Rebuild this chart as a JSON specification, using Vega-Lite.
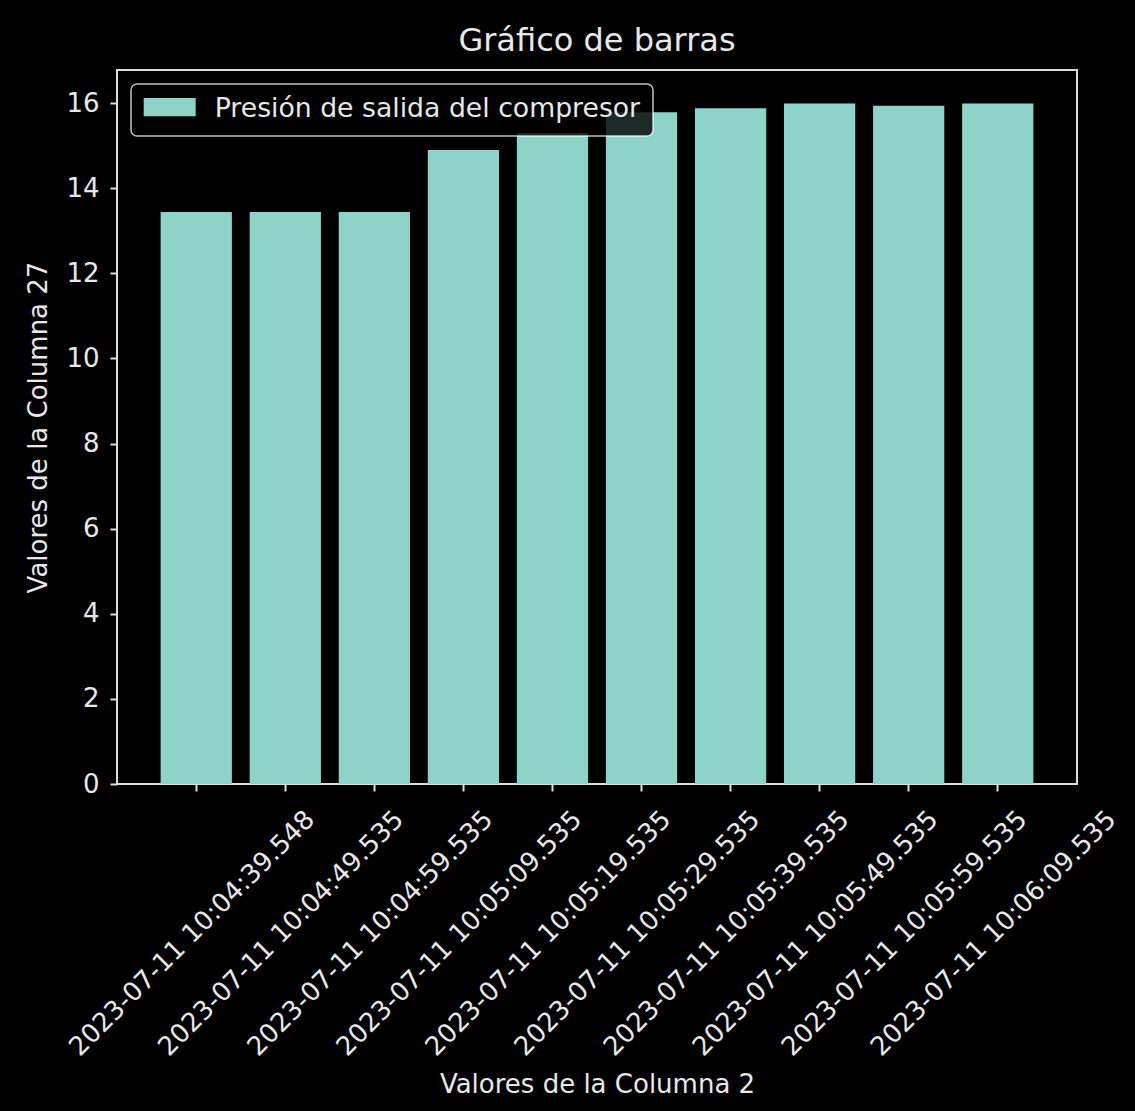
{
  "$schema": "https://vega.github.io/schema/vega-lite/v6.json",
  "autosize": {"type": "none"},
  "padding": {"left": 117, "top": 70, "right": 58, "bottom": 327},
  "width": 960,
  "height": 714,
  "background": "#000000",
  "title": {
    "text": "Gráfico de barras",
    "frame": "group",
    "anchor": "middle",
    "font": "DejaVu Sans",
    "fontSize": 32,
    "fontWeight": "normal",
    "color": "#e8e8e8",
    "baseline": "bottom",
    "offset": 11,
    "dy": 31
  },
  "data": {
    "values": [
      {"tiempo": "2023-07-11 10:04:39.548", "presion": 13.44},
      {"tiempo": "2023-07-11 10:04:49.535", "presion": 13.44},
      {"tiempo": "2023-07-11 10:04:59.535", "presion": 13.44},
      {"tiempo": "2023-07-11 10:05:09.535", "presion": 14.90},
      {"tiempo": "2023-07-11 10:05:19.535", "presion": 15.30},
      {"tiempo": "2023-07-11 10:05:29.535", "presion": 15.79},
      {"tiempo": "2023-07-11 10:05:39.535", "presion": 15.88},
      {"tiempo": "2023-07-11 10:05:49.535", "presion": 15.99},
      {"tiempo": "2023-07-11 10:05:59.535", "presion": 15.94},
      {"tiempo": "2023-07-11 10:06:09.535", "presion": 15.99}
    ]
  },
  "mark": {"type": "bar", "opacity": 1},
  "encoding": {
    "x": {
      "field": "tiempo",
      "type": "ordinal",
      "sort": null,
      "scale": {"paddingInner": 0.2, "paddingOuter": 0.49},
      "axis": {
        "title": "Valores de la Columna 2",
        "labelAngle": -45,
        "labelAlign": "center",
        "labelBaseline": "middle",
        "labelPadding": 142,
        "labelOffset": -4,
        "titlePadding": 87
      }
    },
    "y": {
      "field": "presion",
      "type": "quantitative",
      "scale": {"domain": [0, 16.78], "nice": false, "zero": true},
      "axis": {
        "title": "Valores de la Columna 27",
        "values": [0, 2, 4, 6, 8, 10, 12, 14, 16],
        "labelPadding": 11,
        "titlePadding": 14
      }
    },
    "color": {
      "datum": "Presión de salida del compresor",
      "type": "nominal",
      "scale": {"range": ["#8dd3c7"]},
      "legend": {
        "title": null,
        "orient": "top-left",
        "offset": 14,
        "padding": 12,
        "fillColor": "rgba(0,0,0,0.8)",
        "strokeColor": "rgba(255,255,255,0.75)",
        "cornerRadius": 6,
        "symbolType": "M-1.46,-1.3H4.54V0.8H-1.46Z",
        "symbolSize": 300,
        "symbolStrokeWidth": 0,
        "symbolOpacity": 1,
        "labelFont": "DejaVu Sans",
        "labelFontSize": 26.7,
        "labelColor": "#e8e8e8",
        "labelOffset": 45,
        "labelLimit": 0,
        "encode": {
          "legend": {"update": {"strokeWidth": {"value": 1.5}}}
        }
      }
    }
  },
  "config": {
    "font": "DejaVu Sans",
    "view": {"stroke": "#dcdcdc", "strokeWidth": 2},
    "axis": {
      "domain": false,
      "grid": false,
      "ticks": true,
      "tickColor": "#dcdcdc",
      "tickWidth": 2,
      "tickSize": 7,
      "labelFont": "DejaVu Sans",
      "labelFontSize": 26,
      "labelColor": "#e8e8e8",
      "labelLimit": 0,
      "titleFont": "DejaVu Sans",
      "titleFontSize": 26,
      "titleFontWeight": "normal",
      "titleColor": "#e8e8e8"
    }
  }
}
